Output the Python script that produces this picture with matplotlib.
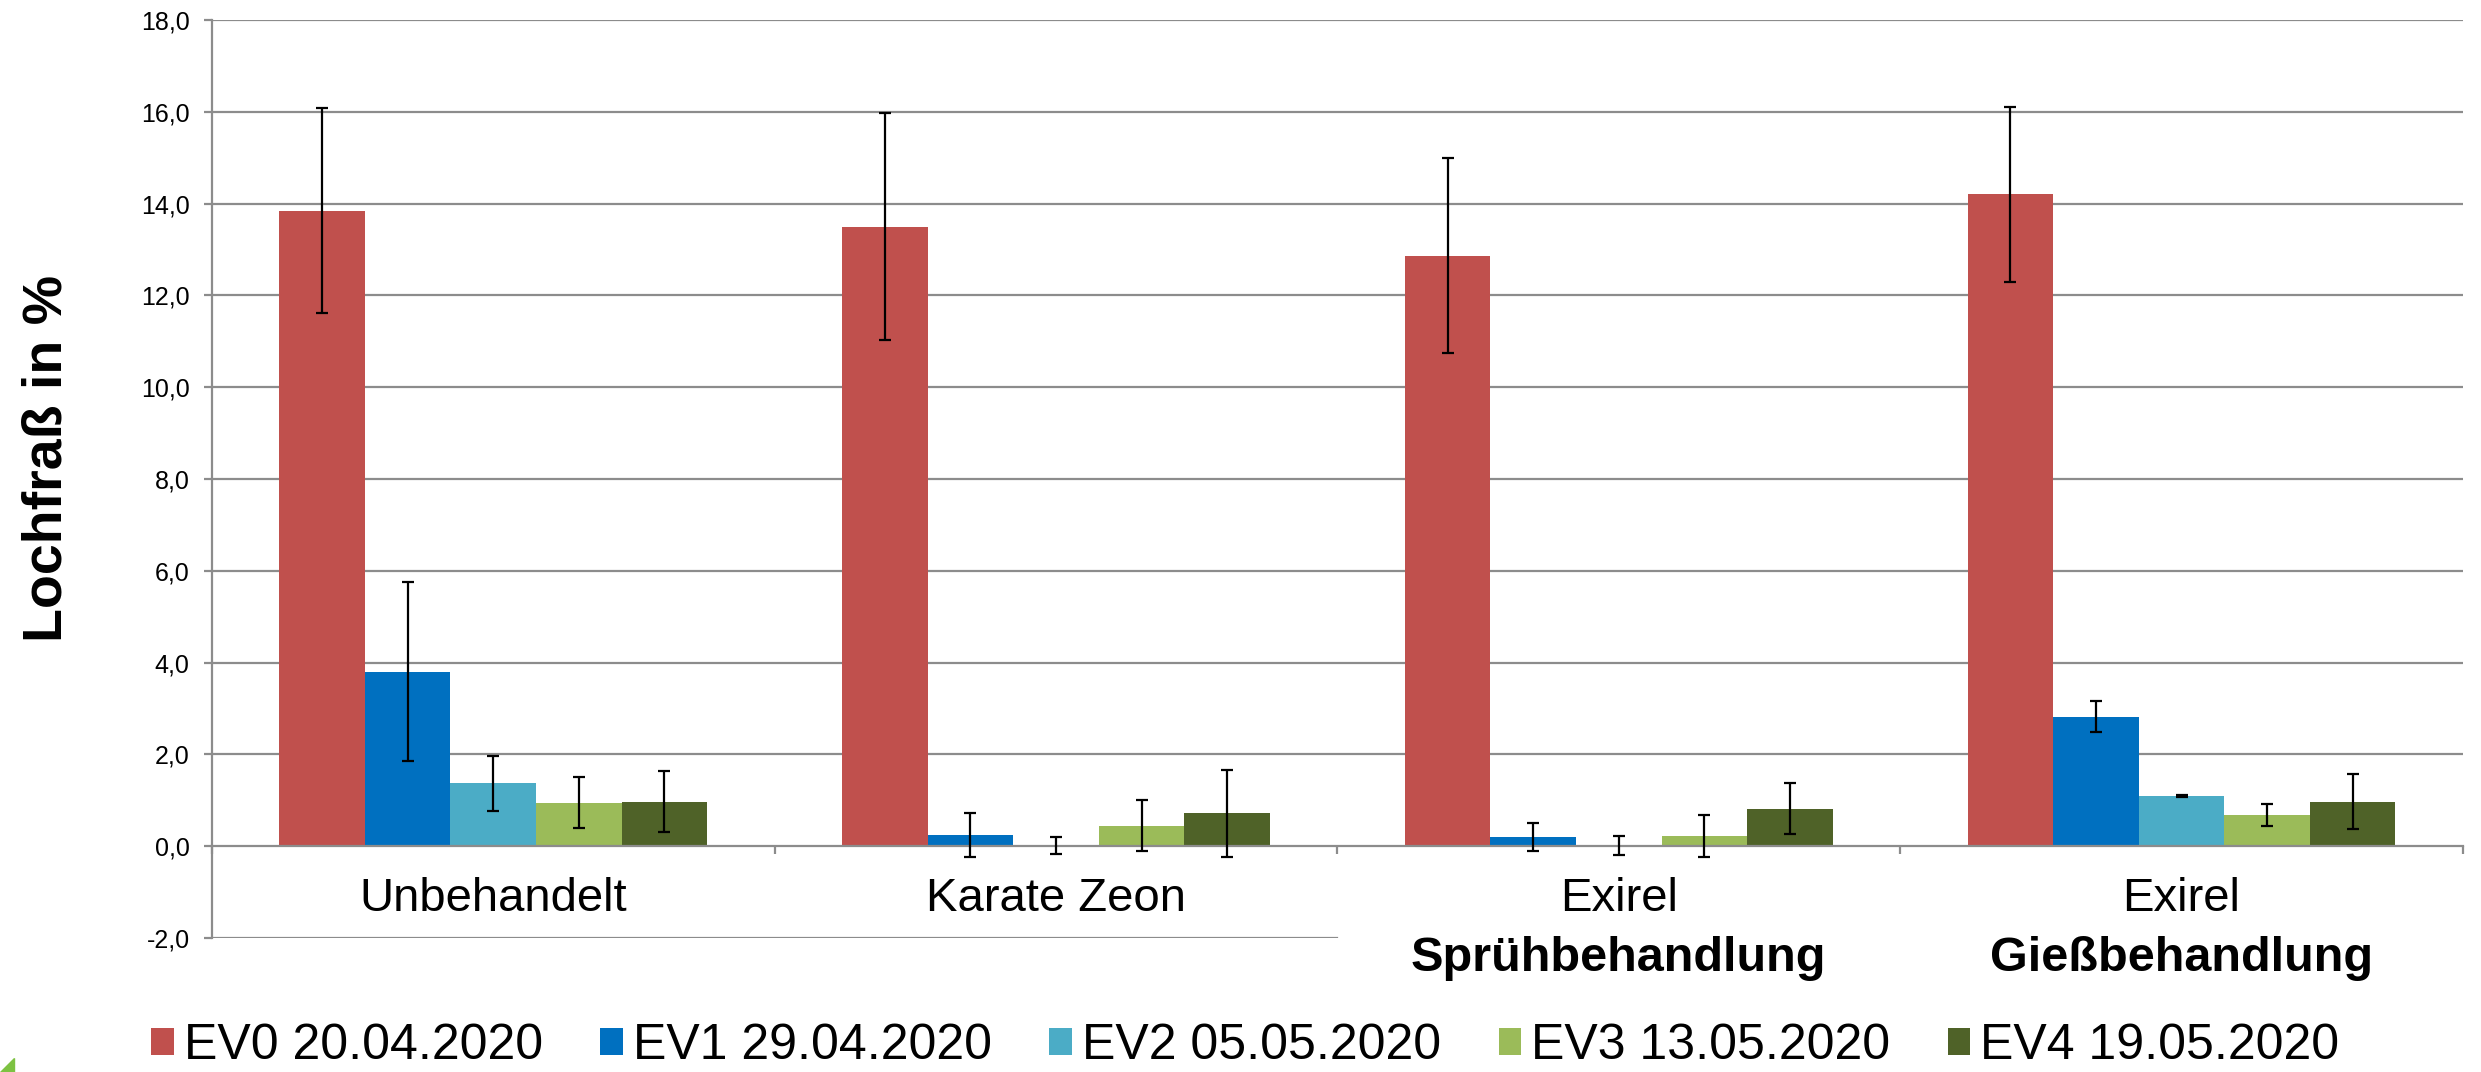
import matplotlib.pyplot as plt
import matplotlib.ticker as mticker
import numpy as np

plt.rcParams['font.family'] = ['Liberation Sans', 'DejaVu Sans']

groups = ["Unbehandelt", "Karate Zeon", "Exirel", "Exirel"]
subtitles = ["", "", "Sprühbehandlung", "Gießbehandlung"]
series = ["EV0 20.04.2020", "EV1 29.04.2020", "EV2 05.05.2020",
          "EV3 13.05.2020", "EV4 19.05.2020"]
colors = ["#C0504D", "#0070C0", "#4BACC6", "#9BBB59", "#4F6228"]

ev0 = [13.85, 13.50, 12.87, 14.20]
ev0_err = [2.23, 2.47, 2.12, 1.90]
ev1 = [3.80, 0.25, 0.20, 2.82]
ev1_err = [1.95, 0.48, 0.30, 0.34]
ev2 = [1.37, 0.02, 0.01, 1.10]
ev2_err = [0.60, 0.18, 0.21, 0.02]
ev3 = [0.95, 0.45, 0.22, 0.67]
ev3_err = [0.56, 0.55, 0.46, 0.24]
ev4 = [0.97, 0.72, 0.82, 0.97]
ev4_err = [0.67, 0.95, 0.55, 0.60]

values = [ev0, ev1, ev2, ev3, ev4]
errors = [ev0_err, ev1_err, ev2_err, ev3_err, ev4_err]

yticks = np.arange(-2, 19, 2)
grid_col = "#8C8C8C"

fig = plt.figure(figsize=(24.81, 10.72), dpi=100)
ax = fig.add_axes([0.0854, 0.125, 0.9073, 0.8563])

x = np.arange(len(groups))
width = 0.152
for i, (vals, errs) in enumerate(zip(values, errors)):
    pos = x + (i - 2) * width
    ax.bar(pos, vals, width, color=colors[i], label=series[i], zorder=2, linewidth=0)
    ax.errorbar(pos, vals, yerr=errs, fmt='none', ecolor='black',
                elinewidth=1.6, capsize=4.5, capthick=1.6, zorder=3)

# gridlines (the -2 line is hidden behind the two-line labels on the right)
for t in yticks:
    if t > 0:
        ax.axhline(t, color=grid_col, lw=1.6, zorder=1)
ax.axhline(-2, xmax=0.5, color=grid_col, lw=1.6, zorder=1)

ax.set_xlim(-0.5, 3.5)
ax.set_ylim(-2, 18)
ax.set_yticks(yticks)
ax.yaxis.set_major_formatter(mticker.FuncFormatter(lambda v, p: f"{v:.1f}".replace('.', ',')))
ax.tick_params(axis='y', labelsize=18, length=6, width=1.6, color=grid_col, pad=10)

ax.set_xticks(np.arange(-0.5, 4, 1))
ax.set_xticklabels([])
ax.tick_params(axis='x', length=6, width=1.6, color=grid_col)

for s in ['top', 'right']:
    ax.spines[s].set_visible(False)
ax.spines['bottom'].set_position(('data', 0))
ax.spines['bottom'].set_color(grid_col)
ax.spines['bottom'].set_linewidth(1.6)
ax.spines['bottom'].set_zorder(2.5)
ax.spines['left'].set_color(grid_col)
ax.spines['left'].set_linewidth(1.6)

for i, (g, sub) in enumerate(zip(groups, subtitles)):
    ax.text(x[i], -1.42, g, ha='center', va='baseline', fontsize=34, clip_on=False)
    if sub:
        ax.text(x[i], -2.72, sub, ha='center', va='baseline', fontsize=35,
                fontweight='bold', clip_on=False)

fig.text(0.019, 0.572, "Lochfraß in %", rotation=90, ha='center', va='center',
         fontsize=40, fontweight='bold')

fig.legend(loc='center left', bbox_to_anchor=(0.061, 0.024), ncol=5, frameon=False,
           fontsize=36, handlelength=0.45, handleheight=0.45, handletextpad=0.2,
           columnspacing=1.15, borderpad=0, borderaxespad=0)

# corner of the logo at the bottom left
fig.patches.append(plt.Polygon([(0.0, 0.0), (0.0055, 0.0), (0.0055, 0.013)],
                               closed=True, transform=fig.transFigure,
                               color="#7DC242", figure=fig))

fig.savefig("out.png", dpi=100)
